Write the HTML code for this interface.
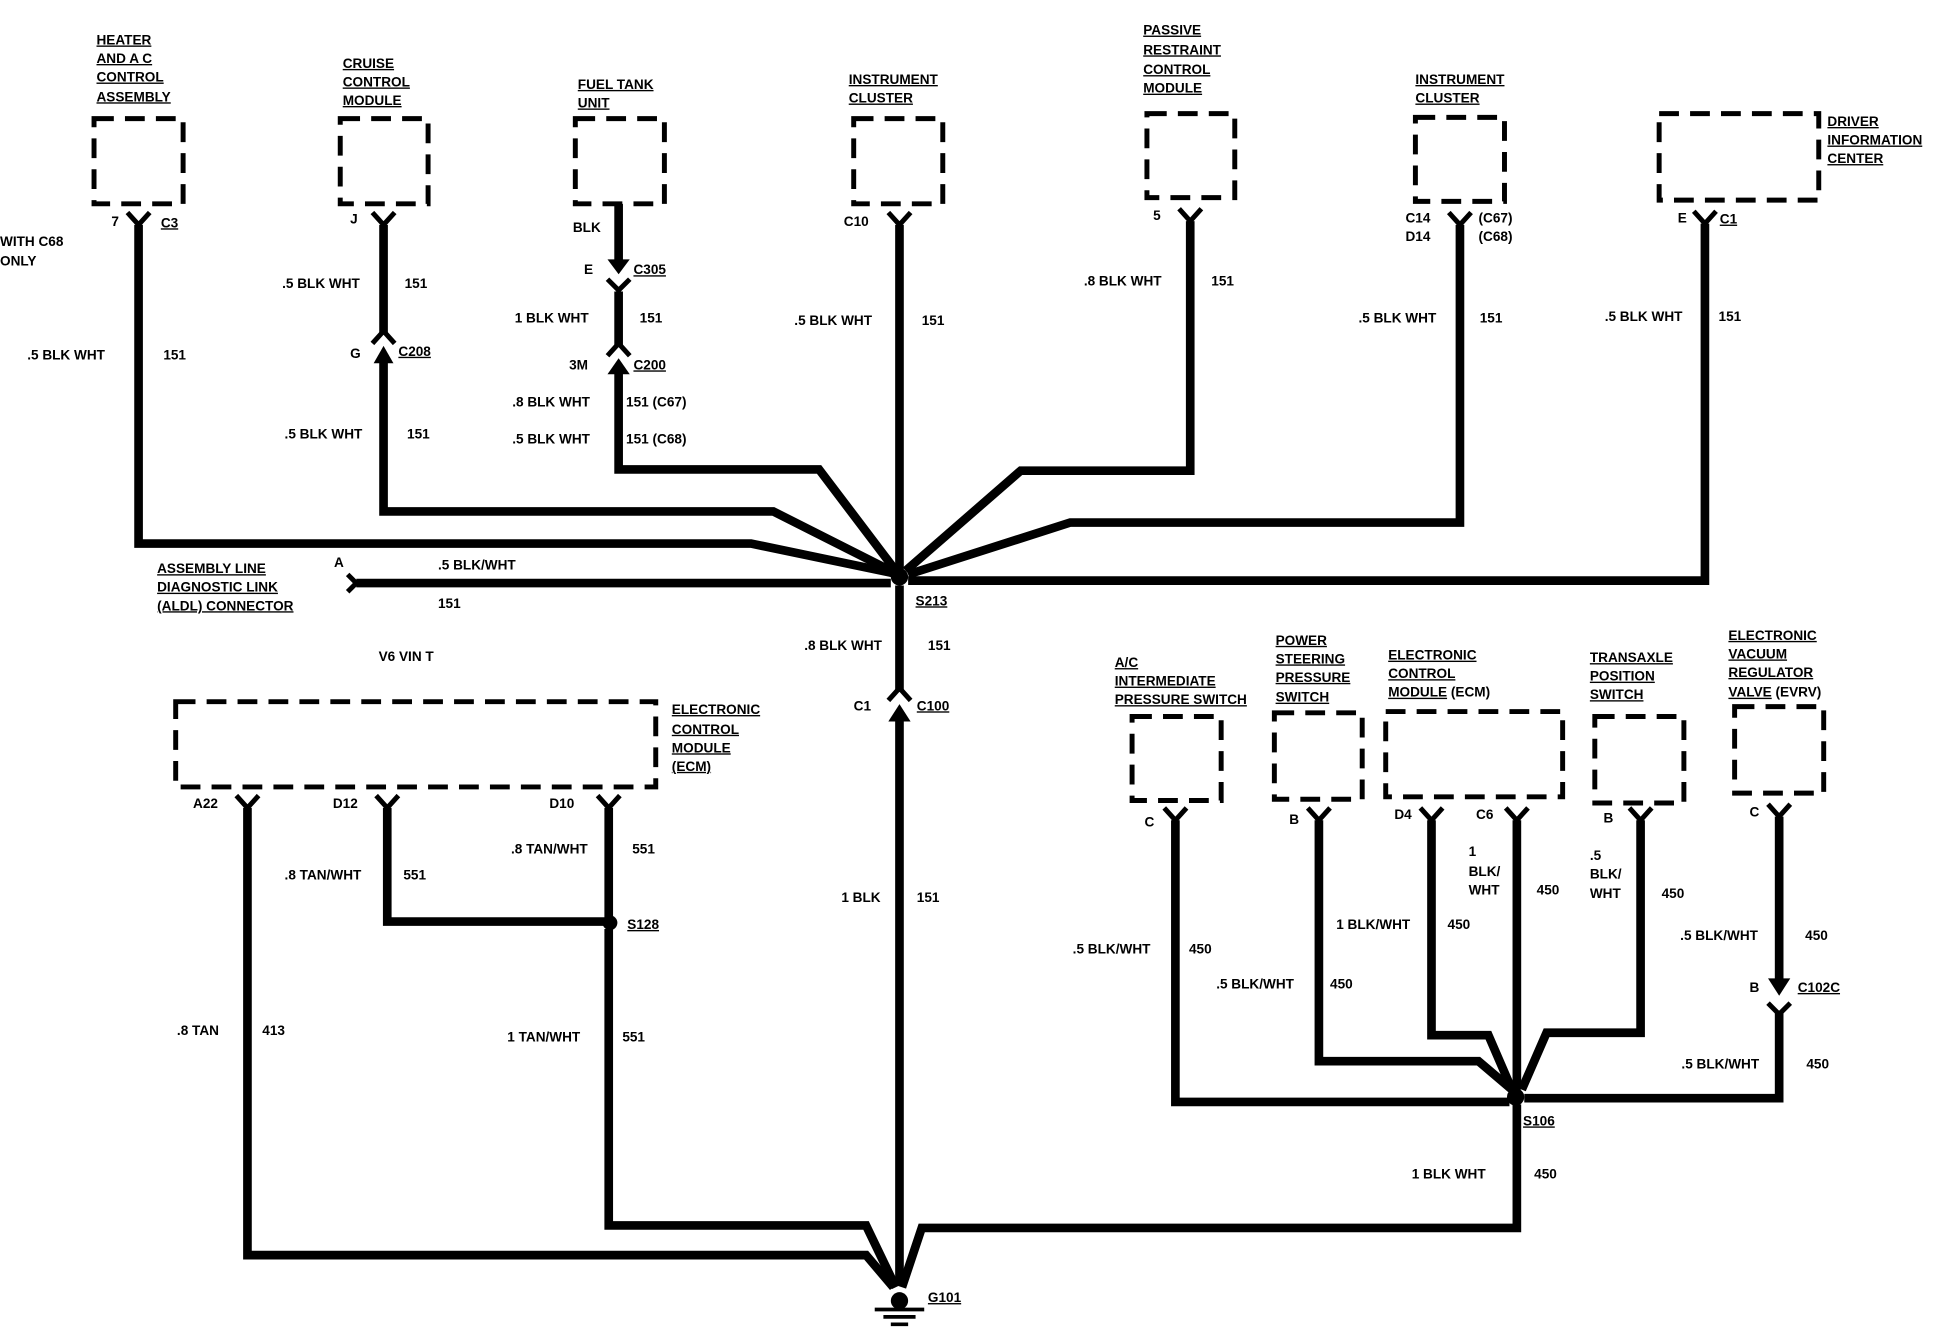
<!DOCTYPE html>
<html><head><meta charset="utf-8"><style>
html,body{margin:0;padding:0;background:#fff;}
svg{display:block}
text{font-family:"Liberation Sans",sans-serif;font-weight:bold;font-size:11px;fill:#000}
text.ul{text-decoration:underline}
.w{fill:none;stroke:#000;stroke-width:7;stroke-linejoin:miter}
.d{fill:none;stroke:#000;stroke-width:4;stroke-dasharray:16 9}
.c{fill:none;stroke:#000;stroke-width:4}
</style></head><body>
<svg width="1940" height="1328" viewBox="0 0 1568 1075" preserveAspectRatio="none" xmlns="http://www.w3.org/2000/svg">
<rect class="d" x="76" y="96" width="72" height="69"/>
<rect class="d" x="275" y="96" width="71" height="69"/>
<rect class="d" x="465" y="96" width="72" height="69"/>
<rect class="d" x="690" y="96" width="72" height="69"/>
<rect class="d" x="927" y="92" width="71" height="68"/>
<rect class="d" x="1144" y="95" width="72" height="68"/>
<rect class="d" x="1341" y="92" width="129" height="70"/>
<rect class="d" x="142" y="568" width="388" height="69"/>
<rect class="d" x="915" y="580" width="72" height="68"/>
<rect class="d" x="1030" y="577" width="71" height="70"/>
<rect class="d" x="1120" y="576" width="143" height="69"/>
<rect class="d" x="1289" y="580" width="72" height="70"/>
<rect class="d" x="1402" y="572" width="72" height="70"/>

<g class="c">
<path d="M103 172 L112 182 L121 172"/><path d="M301 172 L310 182 L319 172"/>
<path d="M718 172 L727 182 L736 172"/><path d="M953 169 L962 179 L971 169"/>
<path d="M1171 172 L1180 182 L1189 172"/><path d="M1369 171 L1378 181 L1387 171"/>
<path d="M191 644 L200 654 L209 644"/><path d="M304 644 L313 654 L322 644"/><path d="M483 644 L492 654 L501 644"/>
<path d="M941 654 L950 664 L959 654"/><path d="M1057 654 L1066 664 L1075 654"/>
<path d="M1148 654 L1157 664 L1166 654"/><path d="M1217 654 L1226 664 L1235 654"/>
<path d="M1317 654 L1326 664 L1335 654"/><path d="M1429 651 L1438 661 L1447 651"/>
<path d="M301 278 L310 268 L319 278"/><path d="M491 226 L500 235 L509 226"/>
<path d="M491 288 L500 278 L509 288"/><path d="M718 567 L727 557 L736 567"/>
<path d="M1429 812 L1438 821 L1447 812"/>
<path d="M281 465 L288 472 L281 479"/>
</g>
<path d="M310 280 L302 294 L318 294 Z"/>
<path d="M500 222 L491 210 L509 210 Z"/>
<path d="M500 290 L491 303 L509 303 Z"/>
<path d="M727 570 L718 584 L736 584 Z"/>
<path d="M1438 806 L1429 792 L1447 792 Z"/>

<g class="w">
<path d="M112 182 V440 H607 L722 464"/>
<path d="M310 182 V270"/>
<path d="M310 292 V414 H625 L722 463"/>
<path d="M500 165 V212"/>
<path d="M500 236 V280"/>
<path d="M500 302 V380 H662 L724 462"/>
<path d="M727 182 V462"/>
<path d="M962 179 V381 H825 L732 462"/>
<path d="M1180 182 V423 H865 L734 465"/>
<path d="M1378 181 V470 H734"/>
<path d="M288 472 H720"/>
<path d="M727 474 V560"/>
<path d="M727 582 V1040"/>
<path d="M200 654 V1016 H700 L722 1042"/>
<path d="M313 654 V746 H492"/>
<path d="M492 654 V746"/>
<path d="M492 752 V992 H700 L724 1042"/>
<path d="M950 664 V892 H1220"/>
<path d="M1066 664 V859 H1195 L1222 882"/>
<path d="M1157 664 V838 H1203 L1222 882"/>
<path d="M1226 664 V882"/>
<path d="M1326 664 V836 H1250 L1230 882"/>
<path d="M1438 661 V795"/>
<path d="M1438 818 V889 H1232"/>
<path d="M1226 894 V994 H745 L729 1042"/>
</g>
<circle cx="727" cy="467" r="7"/>
<circle cx="493" cy="747" r="6"/>
<circle cx="1225" cy="888" r="7"/>
<circle cx="727" cy="1053" r="7"/>
<g stroke="#000" stroke-width="3"><path d="M707 1060 H747"/><path d="M714 1066 H740"/><path d="M720 1072 H734"/></g>

<text class="ul" x="78" y="36">HEATER</text><text class="ul" x="78" y="51">AND A C</text><text class="ul" x="78" y="66">CONTROL</text><text class="ul" x="78" y="82">ASSEMBLY</text>
<text class="ul" x="277" y="55">CRUISE</text><text class="ul" x="277" y="70">CONTROL</text><text class="ul" x="277" y="85">MODULE</text>
<text class="ul" x="467" y="72">FUEL TANK</text><text class="ul" x="467" y="87">UNIT</text>
<text class="ul" x="686" y="68">INSTRUMENT</text><text class="ul" x="686" y="83">CLUSTER</text>
<text class="ul" x="924" y="28">PASSIVE</text><text class="ul" x="924" y="44">RESTRAINT</text><text class="ul" x="924" y="60">CONTROL</text><text class="ul" x="924" y="75">MODULE</text>
<text class="ul" x="1144" y="68">INSTRUMENT</text><text class="ul" x="1144" y="83">CLUSTER</text>
<text class="ul" x="1477" y="102">DRIVER</text><text class="ul" x="1477" y="117">INFORMATION</text><text class="ul" x="1477" y="132">CENTER</text>
<text x="0" y="199">WITH C68</text><text x="0" y="215">ONLY</text>
<text x="90" y="183">7</text><text class="ul" x="130" y="184">C3</text>
<text x="283" y="181">J</text>
<text x="463" y="188">BLK</text>
<text x="472" y="222">E</text><text class="ul" x="512" y="222">C305</text>
<text x="283" y="290">G</text><text class="ul" x="322" y="288">C208</text>
<text x="460" y="299">3M</text><text class="ul" x="512" y="299">C200</text>
<text x="682" y="183">C10</text>
<text x="932" y="178">5</text>
<text x="1136" y="180">C14</text><text x="1136" y="195">D14</text><text x="1195" y="180">(C67)</text><text x="1195" y="195">(C68)</text>
<text x="1356" y="180">E</text><text class="ul" x="1390" y="181">C1</text>
<text x="228" y="233">.5 BLK WHT</text><text x="327" y="233">151</text>
<text x="22" y="291">.5 BLK WHT</text><text x="132" y="291">151</text>
<text x="416" y="261">1 BLK WHT</text><text x="517" y="261">151</text>
<text x="414" y="329">.8 BLK WHT</text><text x="506" y="329">151 (C67)</text>
<text x="414" y="359">.5 BLK WHT</text><text x="506" y="359">151 (C68)</text>
<text x="230" y="355">.5 BLK WHT</text><text x="329" y="355">151</text>
<text x="642" y="263">.5 BLK WHT</text><text x="745" y="263">151</text>
<text x="876" y="231">.8 BLK WHT</text><text x="979" y="231">151</text>
<text x="1098" y="261">.5 BLK WHT</text><text x="1196" y="261">151</text>
<text x="1297" y="260">.5 BLK WHT</text><text x="1389" y="260">151</text>
<text class="ul" x="127" y="464">ASSEMBLY LINE</text><text class="ul" x="127" y="479">DIAGNOSTIC LINK</text><text class="ul" x="127" y="494">(ALDL) CONNECTOR</text>
<text x="270" y="459">A</text>
<text x="354" y="461">.5 BLK/WHT</text><text x="354" y="492">151</text>
<text class="ul" x="740" y="490">S213</text>
<text x="306" y="535">V6 VIN T</text>
<text x="650" y="526">.8 BLK WHT</text><text x="750" y="526">151</text>
<text x="690" y="575">C1</text><text class="ul" x="741" y="575">C100</text>
<text class="ul" x="543" y="578">ELECTRONIC</text><text class="ul" x="543" y="594">CONTROL</text><text class="ul" x="543" y="609">MODULE</text><text class="ul" x="543" y="624">(ECM)</text>
<text x="156" y="654">A22</text><text x="269" y="654">D12</text><text x="444" y="654">D10</text>
<text x="413" y="691">.8 TAN/WHT</text><text x="511" y="691">551</text>
<text x="230" y="712">.8 TAN/WHT</text><text x="326" y="712">551</text>
<text class="ul" x="507" y="752">S128</text>
<text x="680" y="730">1 BLK</text><text x="741" y="730">151</text>
<text x="143" y="838">.8 TAN</text><text x="212" y="838">413</text>
<text x="410" y="843">1 TAN/WHT</text><text x="503" y="843">551</text>
<text class="ul" x="750" y="1054">G101</text>
<text class="ul" x="901" y="540">A/C</text><text class="ul" x="901" y="555">INTERMEDIATE</text><text class="ul" x="901" y="570">PRESSURE SWITCH</text>
<text class="ul" x="1031" y="522">POWER</text><text class="ul" x="1031" y="537">STEERING</text><text class="ul" x="1031" y="552">PRESSURE</text><text class="ul" x="1031" y="568">SWITCH</text>
<text class="ul" x="1122" y="534">ELECTRONIC</text><text class="ul" x="1122" y="549">CONTROL</text><text x="1122" y="564"><tspan class="ul" text-decoration="underline">MODULE</tspan> (ECM)</text>
<text class="ul" x="1285" y="536">TRANSAXLE</text><text class="ul" x="1285" y="551">POSITION</text><text class="ul" x="1285" y="566">SWITCH</text>
<text class="ul" x="1397" y="518">ELECTRONIC</text><text class="ul" x="1397" y="533">VACUUM</text><text class="ul" x="1397" y="548">REGULATOR</text><text x="1397" y="564"><tspan text-decoration="underline">VALVE</tspan> (EVRV)</text>
<text x="925" y="669">C</text><text x="1042" y="667">B</text><text x="1127" y="663">D4</text><text x="1193" y="663">C6</text>
<text x="1296" y="666">B</text><text x="1414" y="661">C</text>
<text x="1187" y="693">1</text><text x="1187" y="709">BLK/</text><text x="1187" y="724">WHT</text><text x="1242" y="724">450</text>
<text x="1285" y="696">.5</text><text x="1285" y="711">BLK/</text><text x="1285" y="727">WHT</text><text x="1343" y="727">450</text>
<text x="1080" y="752">1 BLK/WHT</text><text x="1170" y="752">450</text>
<text x="867" y="772">.5 BLK/WHT</text><text x="961" y="772">450</text>
<text x="983" y="800">.5 BLK/WHT</text><text x="1075" y="800">450</text>
<text x="1358" y="761">.5 BLK/WHT</text><text x="1459" y="761">450</text>
<text x="1414" y="803">B</text><text class="ul" x="1453" y="803">C102C</text>
<text x="1359" y="865">.5 BLK/WHT</text><text x="1460" y="865">450</text>
<text class="ul" x="1231" y="911">S106</text>
<text x="1141" y="954">1 BLK WHT</text><text x="1240" y="954">450</text>
</svg>
</body></html>
